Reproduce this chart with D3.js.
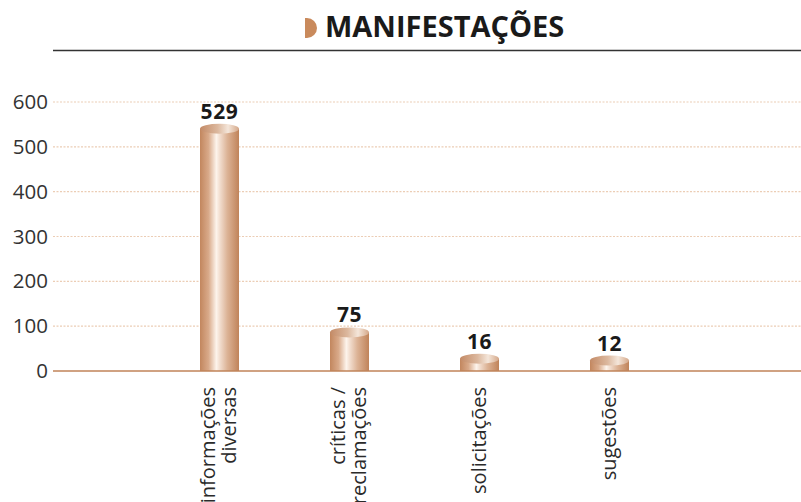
<!DOCTYPE html>
<html>
<head>
<meta charset="utf-8">
<script src="https://cdn.jsdelivr.net/npm/d3@7"></script>
<style>
body { margin: 0; background: #fff; }
text { font-family: "Open Sans", "Noto Sans", sans-serif; }
</style>
</head>
<body>
<div id="chartArea"></div>
<script>
// data
const categories = ["informações diversas", "críticas / reclamações", "solicitações", "sugestões"];
const labelLines = [["informações", "diversas"], ["críticas /", "reclamações"], ["solicitações"], ["sugestões"]];
const values = [529, 75, 16, 12];
const yTicks = [0, 100, 200, 300, 400, 500, 600];
const title = "MANIFESTAÇÕES";

const W = 801, H = 502;
const svg = d3.select("#chartArea").append("svg")
  .attr("width", W).attr("height", H);

const defs = svg.append("defs");
const body = defs.append("linearGradient").attr("id", "cyl").attr("x1", "0").attr("x2", "1");
[[0, "#c2865e"], [0.22, "#d9aa8a"], [0.42, "#fdf4ec"], [0.5, "#f3e0d2"], [0.7, "#dcb396"], [1, "#c08359"]]
  .forEach(s => body.append("stop").attr("offset", s[0]).attr("stop-color", s[1]));
const cap = defs.append("linearGradient").attr("id", "cap").attr("x1", "0").attr("x2", "1");
[[0, "#c38a66"], [0.45, "#dcb89e"], [0.72, "#f4e6da"], [1, "#d4a788"]]
  .forEach(s => cap.append("stop").attr("offset", s[0]).attr("stop-color", s[1]));

const x = d3.scalePoint().domain(categories).range([219.5, 609.5]);
const y = d3.scaleLinear().domain([0, 600]).range([371, 102]);
const barW = 39, ry = 5;

// title
svg.append("path")
  .attr("d", "M305,18 h2 a10,10 0 0 1 0,20 h-2 z")
  .attr("fill", "#c98a5c");
svg.append("text")
  .attr("x", 325).attr("y", 37)
  .attr("font-size", 29).attr("font-weight", 700)
  .attr("fill", "#1a1a1a")
  .text(title);
svg.append("line")
  .attr("x1", 53).attr("x2", W).attr("y1", 50.5).attr("y2", 50.5)
  .attr("stroke", "#333").attr("stroke-width", 1.5);

// grid
svg.append("g").selectAll("line")
  .data(yTicks.filter(d => d > 0))
  .join("line")
  .attr("x1", 53).attr("x2", W)
  .attr("y1", d => y(d)).attr("y2", d => y(d))
  .attr("stroke", "#eccdb5").attr("stroke-width", 1.2)
  .attr("stroke-dasharray", "2,1.5");

// y axis
const yAxis = svg.append("g")
  .attr("transform", "translate(53,0)")
  .call(d3.axisLeft(y).tickValues(yTicks).tickSize(0).tickPadding(5));
yAxis.select(".domain").remove();
yAxis.selectAll("text")
  .attr("font-size", 20.5).attr("fill", "#333")
  .style("font-family", "'Open Sans', sans-serif");

// bars
const bars = svg.append("g").selectAll("g")
  .data(values)
  .join("g");
bars.append("rect")
  .attr("x", (d, i) => x(categories[i]) - barW / 2)
  .attr("y", d => y(d) - ry)
  .attr("width", barW)
  .attr("height", d => y(0) - (y(d) - ry))
  .attr("fill", "url(#cyl)");
bars.append("ellipse")
  .attr("cx", (d, i) => x(categories[i]))
  .attr("cy", d => y(d) - ry)
  .attr("rx", barW / 2).attr("ry", ry)
  .attr("fill", "url(#cap)");
bars.append("text")
  .attr("x", (d, i) => x(categories[i]))
  .attr("y", d => y(d) - 2 * ry - 5)
  .attr("text-anchor", "middle")
  .attr("font-size", 21).attr("font-weight", 700)
  .attr("letter-spacing", 0.6)
  .attr("fill", "#1a1a1a")
  .text(d => d);

// baseline
svg.append("line")
  .attr("x1", 53).attr("x2", W).attr("y1", y(0)).attr("y2", y(0))
  .attr("stroke", "#c08359").attr("stroke-width", 1.5);

// x labels
const xl = svg.append("g").selectAll("g")
  .data(categories)
  .join("g")
  .attr("transform", d => `translate(${x(d)},387) rotate(-90)`);
xl.each(function (d, i) {
  const lines = labelLines[i];
  const t = d3.select(this).append("text")
    .attr("text-anchor", "end")
    .attr("font-size", 20).attr("fill", "#2a2a2a");
  lines.forEach((ln, j) => {
    t.append("tspan")
      .attr("x", 0)
      .attr("y", 6 + (j - (lines.length - 1) / 2) * 21.5)
      .text(ln);
  });
});
</script>
</body>
</html>
